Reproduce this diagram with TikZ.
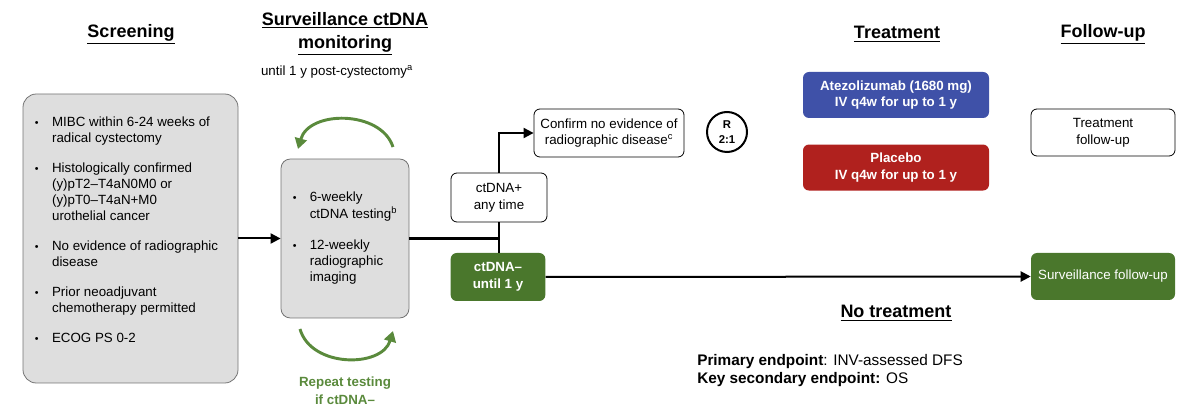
\documentclass[tikz,border=0pt]{standalone}
\usepackage{fontspec}
\setmainfont{Liberation Sans}
\usepackage{xcolor}
\usetikzlibrary{arrows.meta,positioning}

\definecolor{scrgray}{RGB}{222,222,222}
\definecolor{atzblue}{RGB}{63,81,168}
\definecolor{plcred}{RGB}{176,33,30}
\definecolor{negreen}{RGB}{74,119,44}
\definecolor{arcgreen}{RGB}{90,138,60}

\begin{document}
\begin{tikzpicture}[
  x=0.75pt,y=-0.75pt,
  font=\fontsize{10}{12.5}\selectfont,
  ttl/.style={font=\fontsize{13.5}{17}\selectfont\bfseries,align=center},
  gbox/.style={rectangle,draw=black!55,fill=scrgray,rounded corners=10pt,line width=0.6pt},
  wbox/.style={rectangle,draw,rounded corners=4.5pt,align=center,fill=white,line width=0.6pt},
  cbox/.style={rectangle,rounded corners=4.5pt,align=center,text=white,
               font=\fontsize{10}{12.5}\selectfont\bfseries},
  arr/.style={-{Triangle[length=7.5pt,width=7.5pt]},line width=1.5pt},
  garr/.style={-{Triangle[length=8pt,width=9pt]},line width=2.2pt,draw=arcgreen}
]
\useasboundingbox (0,0) rectangle (1200,416);

% column headings
\node[ttl] (hscr) at (131,34) {\underline{Screening}};
\node[ttl] (hsur) at (345,33.5) {\underline{Surveillance ctDNA}\\\underline{monitoring}};
\node (until) at (337,72) {until 1 y post-cystectomy\textsuperscript{a}};
\node[ttl] (htrt) at (897,34) {\underline{Treatment}};
\node[ttl] (hfu) at (1103,34) {\underline{Follow-up}};

% screening
\node[gbox,minimum width=161.25pt,minimum height=216.75pt] (scr) at (130.5,238.5) {};
\node[anchor=north west,inner sep=0pt,font=\fontsize{10}{12}\selectfont] (scrtxt) at (34.5,115) {%
  \begin{tabular}{@{}p{13pt}@{}l@{}}
  {\footnotesize •} & MIBC within 6-24 weeks of\\
   & radical cystectomy\\[10.5pt]
  {\footnotesize •} & Histologically confirmed\\
   & (y)pT2–T4aN0M0 or\\
   & (y)pT0–T4aN+M0\\
   & urothelial cancer\\[10.5pt]
  {\footnotesize •} & No evidence of radiographic\\
   & disease\\[10.5pt]
  {\footnotesize •} & Prior neoadjuvant\\
   & chemotherapy permitted\\[10.5pt]
  {\footnotesize •} & ECOG PS 0-2
  \end{tabular}};

% surveillance
\node[gbox,rounded corners=7pt,minimum width=96pt,minimum height=119.25pt,
      font=\fontsize{10}{12.3}\selectfont] (surv) at (345,238.5) {%
  \begin{tabular}{@{}p{12.75pt}@{}l@{}}
  {\footnotesize •} & 6-weekly\\
   & ctDNA testing\textsuperscript{b}\\[11pt]
  {\footnotesize •} & 12-weekly\\
   & radiographic\\
   & imaging
  \end{tabular}};
\draw[garr] (393,147) .. controls (381,110) and (309,110) .. (298,149);
\draw[garr] (300,329) .. controls (311,368) and (382,368) .. (393,331);
\node[align=center,text=arcgreen,font=\fontsize{10}{13.5}\selectfont\bfseries] (rep) at (345,391) {Repeat testing\\if ctDNA–};

% ctDNA result
\node[wbox,minimum width=72pt,minimum height=36.75pt] (pos) at (499,197.5) {ctDNA+\\any time};
\node[cbox,fill=negreen,minimum width=71pt,minimum height=36pt] (neg) at (498,277) {ctDNA–\\until 1 y};
\node[wbox,minimum width=112.5pt,minimum height=36pt] (conf) at (609,133) {Confirm no evidence of\\radiographic disease\textsuperscript{c}};
\node[circle,draw,line width=1.5pt,minimum size=30pt,inner sep=0pt,align=center,
      font=\fontsize{8.5}{11}\selectfont\bfseries] (rnd) at (727,132) {R\\2:1};

% treatment and follow-up
\node[cbox,fill=atzblue,minimum width=139.5pt,minimum height=34.5pt] (atz) at (896,95) {Atezolizumab (1680 mg)\\IV q4w for up to 1 y};
\node[cbox,fill=plcred,minimum width=139.5pt,minimum height=34.5pt,below=19.5pt of atz] (plc) {Placebo\\IV q4w for up to 1 y};
\node[wbox,minimum width=108pt,minimum height=35.25pt] (tfu) at (1103,132.5) {Treatment\\follow-up};
\node[cbox,fill=negreen,font=\fontsize{10}{12.5}\selectfont,minimum width=108pt,minimum height=35.25pt] (sfu) at (1103,276.5) {Surveillance follow-up};
\node[ttl] (hnot) at (896,313) {\underline{No treatment}};
\node[anchor=west,align=left,inner sep=0pt,font=\fontsize{11.5}{13.5}\selectfont] (endp) at (697,371)
  {\textbf{Primary endpoint}: INV-assessed DFS\\\textbf{Key secondary endpoint:} OS};

\draw[arr] (scr) -- (surv);
\draw[line width=2.6pt] (surv.east) -- (surv.east -| pos.south);
\draw[line width=1.5pt] (pos.south) -- (neg.north -| pos.south);
\draw[arr] (pos.north) |- (conf.west);
\draw[arr] (neg.east) -- (sfu.west);
\end{tikzpicture}
\end{document}
